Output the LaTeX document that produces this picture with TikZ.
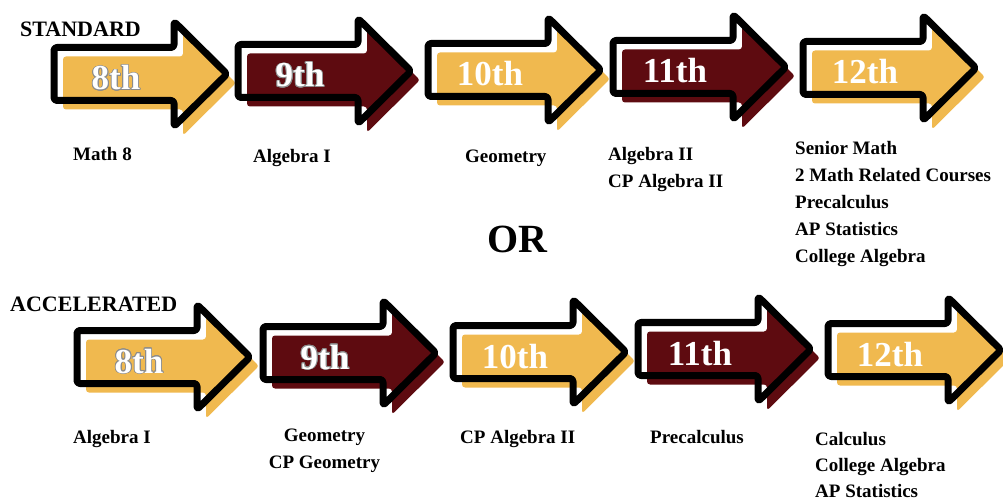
\documentclass[tikz,border=0pt]{standalone}
\usepackage{fontspec}
\setmainfont{Liberation Serif}
\usepackage{contour}
\contourlength{0.9pt}
\definecolor{gold}{HTML}{F0B94F}
\definecolor{maroon}{HTML}{5E0B10}
\tikzset{
  grade/.pic={\path[pic actions, rounded corners=3pt] (0,-26.5) -- (120,-26.5) -- (120,-52.5) -- (173,0) -- (120,52.5) -- (120,26.5) -- (0,26.5) -- cycle;},
  outline/.style={draw=black, line width=7pt, line join=round},
  gradelabel/.style={text=white, font=\fontsize{35}{35}\selectfont\bfseries, anchor=base, inner sep=0pt},
  course/.style={font=\fontsize{19}{27}\selectfont\bfseries, align=left, anchor=north west, inner sep=0pt},
  heading/.style={font=\fontsize{22}{22}\selectfont\bfseries, anchor=base west, inner sep=0pt}
}
\begin{document}
\begin{tikzpicture}[x=1pt,y=-1pt]
\useasboundingbox (0,0) rectangle (1003,502);
% grade arrows
\foreach \n/\x/\y/\c/\g in {
  s8/54/74/gold/{\contour{black!45}{8th}},
  s9/238/71/maroon/{\contour{black!45}{9th}},
  s10/428/70/gold/10th,
  s11/613/67/maroon/11th,
  s12/803/68/gold/12th,
  a8/77/357/gold/{\contour{black!45}{8th}},
  a9/263/353/maroon/{\contour{black!45}{9th}},
  a10/453/352/gold/10th,
  a11/638/349/maroon/11th,
  a12/828/350/gold/12th}
{
  \pic[fill=\c] at (\x+9,\y+9) {grade};
  \pic[outline] at (\x,\y) {grade};
  \node[gradelabel] (\n) at (\x+62,\y+16) {\g};
}
\node[heading] (std) at (20,37) {STANDARD};
\node[heading] (acc) at (10,312) {ACCELERATED};
\node[font=\fontsize{40}{40}\selectfont\bfseries, anchor=base, inner sep=0pt] (or) at (517,253) {OR};
% standard courses
\node[course] (s8c) at (73,147.5) {Math 8};
\node[course] (s9c) at (253,149.5) {Algebra I};
\node[course] (s10c) at (465,149.5) {Geometry};
\node[course] (s11c) at (608,147.5) {Algebra II\\CP Algebra II};
\node[course] (s12c) at (795,141.5) {Senior Math\\2 Math Related Courses\\Precalculus\\AP Statistics\\College Algebra};
% accelerated courses
\node[course] (a8c) at (73,430.5) {Algebra I};
\node[course, align=center, anchor=north] (a9c) at (324.5,428.5) {Geometry\\CP Geometry};
\node[course] (a10c) at (460,430.5) {CP Algebra II};
\node[course] (a11c) at (650,430.5) {Precalculus};
\node[course, font=\fontsize{19}{26}\selectfont\bfseries] (a12c) at (815,432.5) {Calculus\\College Algebra\\AP Statistics};
\end{tikzpicture}
\end{document}
